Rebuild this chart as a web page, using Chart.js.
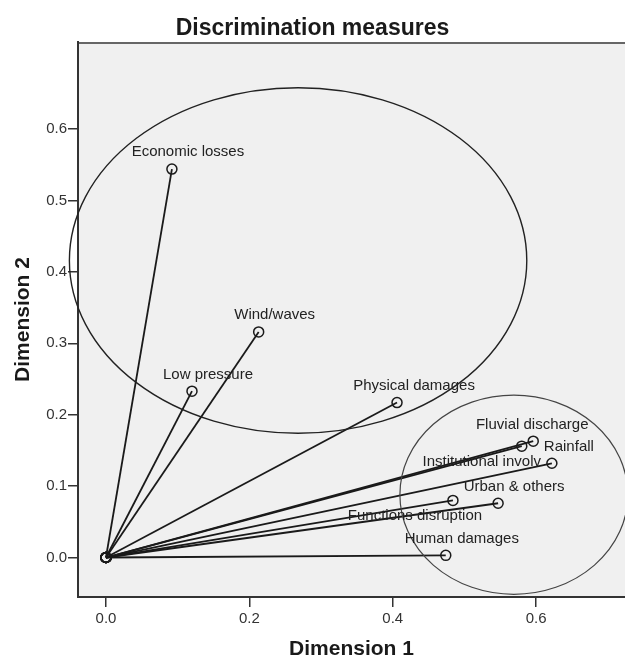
<!DOCTYPE html>
<html>
<head>
<meta charset="utf-8">
<title>Discrimination measures</title>
<script src="https://cdn.jsdelivr.net/npm/chart.js@4.4.1/dist/chart.umd.min.js"></script>
<style>
  body { margin: 0; background: #fff; }
  canvas { display: block; }
</style>
</head>
<body>
<canvas id="grafico" width="625" height="660"></canvas>
<script>
// Discrimination measures - each variable is a vector from the origin
const variables = [
    'Economic losses', 'Wind/waves', 'Low pressure', 'Physical damages',
    'Fluvial discharge', 'Rainfall', 'Institutional involv', 'Urban & others',
    'Functions disruption', 'Human damages'
];
const dimension1 = [0.092, 0.213, 0.120, 0.406, 0.596, 0.622, 0.580, 0.547, 0.484, 0.474];
const dimension2 = [0.544, 0.316, 0.233, 0.217, 0.163, 0.132, 0.156, 0.076, 0.080, 0.003];
const xTicks = [0.0, 0.2, 0.4, 0.6];
const yTicks = [0.0, 0.1, 0.2, 0.3, 0.4, 0.5, 0.6];

// axis range (as SPSS left it)
const X_MIN = -0.039, X_MAX = 0.724;
const Y_MIN = -0.0553, Y_MAX = 0.722;

// grouping ellipses drawn over the plot, in data units
const elipses = [
    { cx: 0.268, cy: 0.416, rx: 0.319, ry: 0.242, color: '#222', width: 1.4 },
    { cx: 0.569, cy: 0.088, rx: 0.159, ry: 0.1395, color: '#444', width: 1.2 }
];

// label offset from its point, in pixels [dx, dy]
const desplazamientos = [
    [16, -17], [16, -17], [16, -16], [17, -17],
    [-1, -16], [17, -16], [-40, 16], [16, -16],
    [-38, 15], [16, -17]
];

const FUENTE = '"Liberation Sans", Arial, sans-serif';
Chart.defaults.font.family = FUENTE;

// gray plot area + thin top border
const fondoPlugin = {
    id: 'fondo',
    beforeDraw(chart) {
        const { ctx, chartArea: a } = chart;
        ctx.save();
        ctx.fillStyle = '#f0f0f0';
        ctx.fillRect(a.left, a.top, a.right - a.left, a.bottom - a.top);
        ctx.strokeStyle = '#666';
        ctx.lineWidth = 2;
        ctx.beginPath();
        ctx.moveTo(a.left, a.top + 1);
        ctx.lineTo(a.right, a.top + 1);
        ctx.stroke();
        ctx.restore();
    }
};

// ellipses and point labels
const anotacionesPlugin = {
    id: 'anotaciones',
    afterDatasetsDraw(chart) {
        const ctx = chart.ctx;
        const sx = chart.scales.x, sy = chart.scales.y;
        ctx.save();
        elipses.forEach(e => {
            const cx = sx.getPixelForValue(e.cx);
            const cy = sy.getPixelForValue(e.cy);
            const rx = Math.abs(sx.getPixelForValue(e.cx + e.rx) - cx);
            const ry = Math.abs(sy.getPixelForValue(e.cy + e.ry) - cy);
            ctx.strokeStyle = e.color;
            ctx.lineWidth = e.width;
            ctx.beginPath();
            ctx.ellipse(cx, cy, rx, ry, 0, 0, 2 * Math.PI);
            ctx.stroke();
        });

        ctx.fillStyle = '#222';
        ctx.font = '15px ' + FUENTE;
        ctx.textAlign = 'center';
        ctx.textBaseline = 'middle';
        variables.forEach((nombre, i) => {
            const px = sx.getPixelForValue(dimension1[i]) + desplazamientos[i][0];
            const py = sy.getPixelForValue(dimension2[i]) + desplazamientos[i][1];
            ctx.fillText(nombre, px, py);
        });
        ctx.restore();
    }
};

const datasets = variables.map((nombre, i) => ({
    label: nombre,
    data: [{ x: 0, y: 0 }, { x: dimension1[i], y: dimension2[i] }],
    showLine: true,
    borderColor: '#1a1a1a',
    borderWidth: 1.8,
    pointRadius: 5,
    pointBorderWidth: 1.5,
    pointBorderColor: '#1a1a1a',
    pointBackgroundColor: 'rgba(0,0,0,0)',
    clip: false
}));

const ctx = document.getElementById('grafico').getContext('2d');
const grafico = new Chart(ctx, {
    type: 'scatter',
    data: { datasets: datasets },
    plugins: [fondoPlugin, anotacionesPlugin],
    options: {
        responsive: false,
        animation: false,
        devicePixelRatio: 1,
        layout: { autoPadding: false, padding: 0 },
        plugins: {
            legend: { display: false },
            tooltip: { enabled: false },
            title: {
                display: true,
                text: 'Discrimination measures',
                color: '#1a1a1a',
                font: { size: 23, weight: 'bold', lineHeight: 1.2 },
                padding: { top: 15, bottom: -0.6 }
            }
        },
        scales: {
            x: {
                type: 'linear',
                position: 'bottom',
                min: X_MIN,
                max: X_MAX,
                afterBuildTicks: s => { s.ticks = xTicks.map(v => ({ value: v })); },
                afterFit: s => { s.height = 63; },
                ticks: {
                    callback: v => Number(v).toFixed(1),
                    color: '#333',
                    font: { size: 15 },
                    padding: 3,
                    maxRotation: 0,
                    autoSkip: false
                },
                grid: { drawOnChartArea: false, drawTicks: true, tickLength: 10, color: '#333', lineWidth: 1.5 },
                border: { display: true, color: '#333', width: 2 },
                title: {
                    display: true,
                    text: 'Dimension 1',
                    color: '#1a1a1a',
                    font: { size: 21, weight: 'bold', lineHeight: 1 },
                    padding: 0
                }
            },
            y: {
                type: 'linear',
                position: 'left',
                min: Y_MIN,
                max: Y_MAX,
                afterBuildTicks: s => { s.ticks = yTicks.map(v => ({ value: v })); },
                afterFit: s => { s.width = 78; },
                ticks: {
                    callback: v => Number(v).toFixed(1),
                    color: '#333',
                    font: { size: 15 },
                    padding: 1,
                    autoSkip: false
                },
                grid: { drawOnChartArea: false, drawTicks: true, tickLength: 10, color: '#333', lineWidth: 1.5 },
                border: { display: true, color: '#333', width: 2 },
                title: {
                    display: true,
                    text: 'Dimension 2',
                    color: '#1a1a1a',
                    font: { size: 21, weight: 'bold', lineHeight: 1 },
                    padding: { top: 13, bottom: 0 }
                }
            }
        }
    }
});
</script>
</body>
</html>
